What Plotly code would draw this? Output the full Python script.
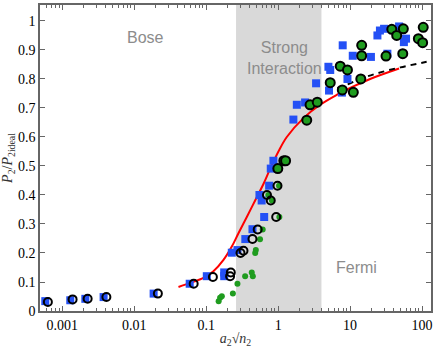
import numpy as np
import plotly.graph_objects as go

# blue squares
sq_x = [0.00058, 0.00129, 0.00209, 0.00375, 0.0186, 0.059, 0.102, 0.178, 0.178,
        0.227, 0.272, 0.35, 0.44, 0.64, 0.59, 0.55, 0.75, 0.79, 0.86, 1.63, 1.82,
        2.37, 3.37, 5.0, 5.3, 5.1, 7.7, 7.9, 9.2, 10.9, 19.5, 24, 26, 29.7, 33,
        48, 56, 60]
sq_y = [0.034, 0.037, 0.042, 0.048, 0.060, 0.094, 0.120, 0.133, 0.120,
        0.201, 0.210, 0.248, 0.282, 0.324, 0.381, 0.400, 0.432, 0.491, 0.518, 0.660, 0.711,
        0.719, 0.785, 0.842, 0.831, 0.760, 0.753, 0.916, 0.800, 0.880, 0.876, 0.950, 0.967, 0.973, 0.887,
        0.981, 0.927, 0.939]

# open black circles
oc_x = [0.00063, 0.00139, 0.00225, 0.0041, 0.0213, 0.067, 0.124, 0.22, 0.215,
        0.33, 0.30, 0.44, 0.52, 0.94, 0.79, 0.70, 0.98]
oc_y = [0.031, 0.040, 0.042, 0.048, 0.060, 0.094, 0.117, 0.133, 0.120,
        0.208, 0.200, 0.248, 0.281, 0.324, 0.381, 0.400, 0.432]

# small green dots
gd_x = [0.149, 0.156, 0.165, 0.235, 0.272, 0.348, 0.43, 0.445, 0.49, 0.48,
        0.56, 0.61, 1.04, 0.82, 0.73, 1.03]
gd_y = [0.034, 0.046, 0.051, 0.060, 0.094, 0.120, 0.133, 0.120, 0.210, 0.200,
        0.247, 0.281, 0.324, 0.381, 0.400, 0.432]

# green filled circles
gc_x = [0.99, 1.2, 1.27, 2.5, 2.78, 3.5, 5.3, 7.3, 9.2, 7.8, 11.1, 14.1, 14.5,
        14.5, 31.6, 38, 44.5, 55, 54, 89, 102, 104]
gc_y = [0.491, 0.518, 0.518, 0.658, 0.711, 0.720, 0.787, 0.844, 0.831, 0.762, 0.754, 0.800, 0.916,
        0.880, 0.879, 0.971, 0.950, 0.973, 0.887, 0.939, 0.925, 0.978]

# red theory curve
red_x = [0.0412, 0.06, 0.0917, 0.126, 0.174, 0.227, 0.281, 0.367, 0.479, 0.625,
         0.774, 1.01, 1.32, 2.25, 3.83, 6.5, 11.1, 19, 48]
red_y = [0.083, 0.097, 0.114, 0.137, 0.176, 0.222, 0.268, 0.324, 0.381, 0.438,
         0.49, 0.55, 0.60, 0.665, 0.711, 0.745, 0.774, 0.80, 0.836]

# black dashed curve
dash_x = [4.75, 9, 13.8, 23.5, 50, 116]
dash_y = [0.757, 0.78, 0.80, 0.819, 0.84, 0.859]

# strong interaction band
band_lo, band_hi = 0.26, 4.0
y_top = 1.055

x_major = [0.001, 0.01, 0.1, 1, 10, 100]
x_major_text = ["0.001", "0.01", "0.1", "1", "10", "100"]
x_minor = [k * 10.0 ** d for d in range(-4, 3) for k in range(2, 10)]
y_ticks = [round(0.1 * i, 1) for i in range(11)]
y_text = ["0"] + [f"{v:.1f}" for v in y_ticks[1:-1]] + ["1"]

BLUE = "#2450f5"
GREEN = "#1f9c1f"
SERIF = "Liberation Serif"

fig = go.Figure()
fig.add_trace(go.Scatter(
    x=[band_lo, band_hi, band_hi, band_lo], y=[0, 0, y_top, y_top],
    fill="toself", fillcolor="#d9d9d9", line=dict(width=0), mode="lines",
    hoverinfo="skip"))
fig.add_trace(go.Scatter(x=red_x, y=red_y, mode="lines", line_shape="spline",
                         line=dict(color="#ff0000", width=2)))
fig.add_trace(go.Scatter(x=dash_x, y=dash_y, mode="lines", line_shape="spline",
                         line=dict(color="black", width=2, dash="6px,5px")))
fig.add_trace(go.Scatter(x=sq_x, y=sq_y, mode="markers",
                         marker=dict(symbol="square", size=8, color=BLUE)))
fig.add_trace(go.Scatter(x=gd_x, y=gd_y, mode="markers",
                         marker=dict(size=6, color=GREEN)))
fig.add_trace(go.Scatter(x=oc_x, y=oc_y, mode="markers",
                         marker=dict(symbol="circle-open", size=8, color="black",
                                     line=dict(width=2))))
fig.add_trace(go.Scatter(x=gc_x, y=gc_y, mode="markers",
                         marker=dict(size=9, color=GREEN,
                                     line=dict(width=2, color="black"))))

label_font = dict(family="Liberation Sans", size=16, color="#8c8c8c")
fig.add_annotation(x=0.217, y=0.929, xref="paper", yref="paper", text="Bose",
                   showarrow=False, font=label_font)
fig.add_annotation(x=0.6253, y=0.896, xref="paper", yref="paper",
                   text="Strong<br>Interaction", showarrow=False, font=label_font)
fig.add_annotation(x=0.867, y=0.108, xref="paper", yref="paper", text="Fermi",
                   showarrow=False, font=label_font)

axis_common = dict(showline=True, linecolor="#666666", linewidth=1.5, mirror="ticks",
                   ticks="inside", tickcolor="#666666", showgrid=False, zeroline=False,
                   tickfont=dict(family=SERIF, size=14, color="black"))
fig.update_xaxes(type="log", range=[-3.31, 2.125], tickmode="array",
                 tickvals=x_major, ticktext=x_major_text, ticklen=5,
                 minor=dict(tickmode="array", tickvals=x_minor, ticks="inside",
                            ticklen=3, tickcolor="#666666"),
                 title=dict(text="<i>a</i><sub>2</sub>√<i>n</i><sub>2</sub>",
                            font=dict(family=SERIF, size=14, color="#333333"),
                            standoff=2),
                 **axis_common)
fig.update_yaxes(range=[0, y_top], tickmode="array", tickvals=y_ticks, ticktext=y_text,
                 ticklen=5,
                 title=dict(text="<i>P</i><sub>2</sub>/<i>P</i><sub>2ideal</sub>",
                            font=dict(family=SERIF, size=14, color="#333333"),
                            standoff=4),
                 **axis_common)
fig.update_layout(width=443, height=348, showlegend=False,
                  font=dict(family=SERIF, size=14, color="black"),
                  margin=dict(l=40, r=12, t=3, b=37),
                  plot_bgcolor="white", paper_bgcolor="white")
fig.write_html("out.html", config={"displayModeBar": False},
               post_script="document.body.style.margin='0';")
